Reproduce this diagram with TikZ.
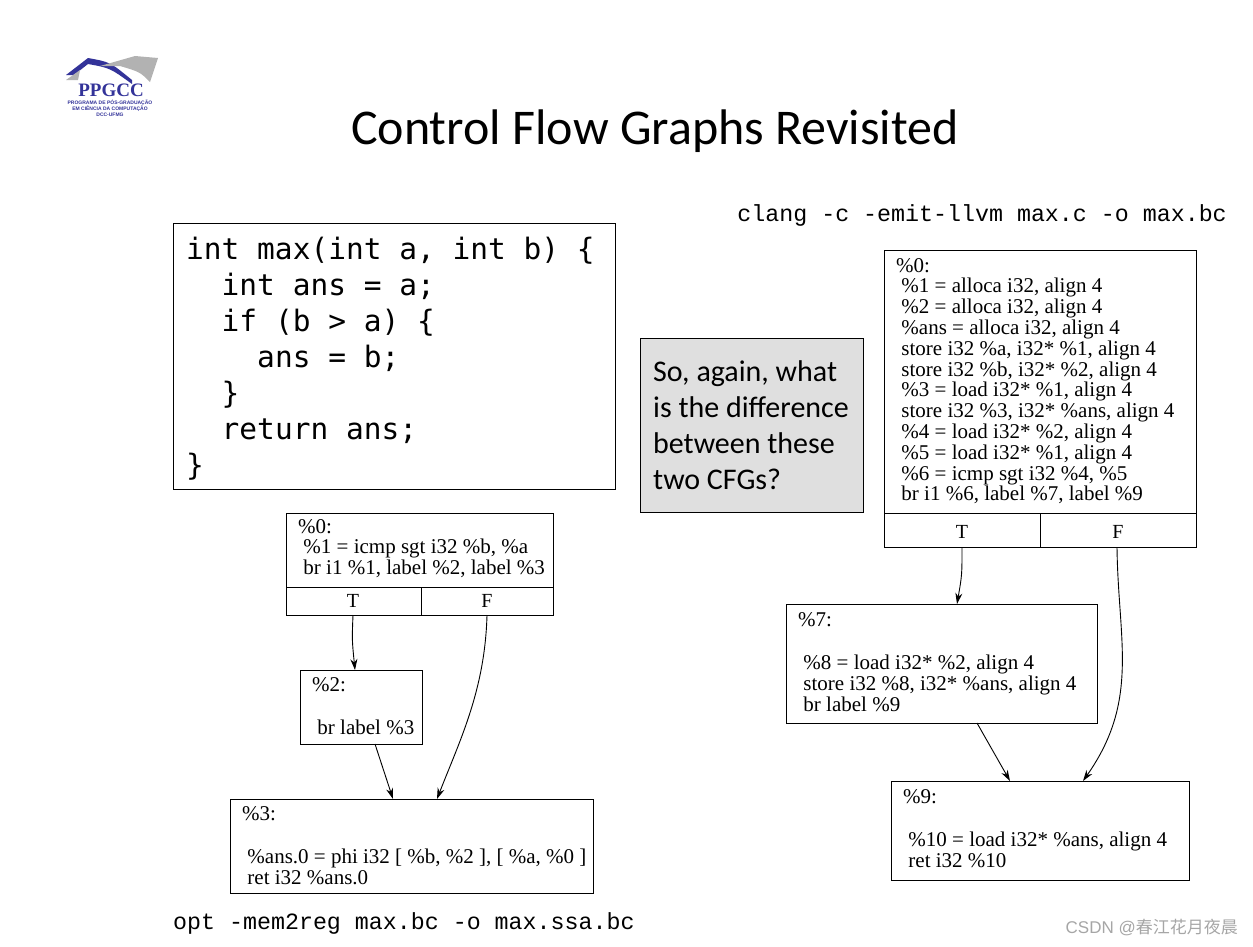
\documentclass[tikz,border=0pt]{standalone}
\usepackage{fontspec}
\setmainfont{Liberation Serif}
\newfontfamily\calfont{Carlito}
\newfontfamily\dmono{DejaVu Sans Mono}
\newfontfamily\lmono{Liberation Mono}
\newfontfamily\hsans{Liberation Sans}
\newfontfamily\cjk{Noto Sans CJK SC}
\usetikzlibrary{arrows.meta}
\begin{document}
\begin{tikzpicture}[x=1pt,y=-1pt,
  box/.style={draw,line width=0.9pt},
  cfg/.style={font=\fontsize{21}{20.8}\selectfont,align=left,anchor=north west,inner sep=0pt},
  arr/.style={-{Stealth[length=11pt,width=7pt]},line width=0.9pt}]
\useasboundingbox (0,0) rectangle (1253,946);
% logo
\fill[blue!50!black!80] (66,75) -- (88,58) .. controls (110,62) .. (132,80) -- (132,84) .. controls (110,68) .. (88,64) -- (74,75) -- cycle;
\fill[gray!60] (100,66) -- (135,56) -- (158,58) -- (150,82) .. controls (140,72) .. (120,66) -- cycle;
\fill[gray!60] (66,80) -- (80,70) -- (78,80) -- cycle;
\node[font=\bfseries\fontsize{19}{19}\selectfont,text=blue!50!black!80,inner sep=0pt] (logo) at (111,90) {PPGCC};
\node[font=\hsans\bfseries\fontsize{5}{6}\selectfont,text=blue!50!black!80,align=center,inner sep=0pt] (logot) at (110,108) {PROGRAMA DE PÓS-GRADUAÇÃO\\EM CIÊNCIA DA COMPUTAÇÃO\\DCC-UFMG};
% title
\node[font=\calfont\fontsize{50}{50}\selectfont] (title) at (655,131) {Control Flow Graphs Revisited};
% code box
\draw[box] (173,223) rectangle (615,489);
\node[font=\dmono\fontsize{29.5}{36}\selectfont,anchor=north west,align=left,inner sep=0pt] (code) at (186,237) {int max(int a, int b) \{\\\ \ int ans = a;\\\ \ if (b > a) \{\\\ \ \ \ ans = b;\\\ \ \}\\\ \ return ans;\\\}};
% gray box
\draw[box,fill=gray!25] (640,338) rectangle (863,512);
\node[font=\calfont\fontsize{30}{36}\selectfont,anchor=north west,align=left,inner sep=0pt] (q) at (653,360) {So, again, what\\is the difference\\between these\\two CFGs?};
% commands
\node[font=\lmono\fontsize{23.3}{23}\selectfont,anchor=east,inner sep=0pt] (cmd1) at (1227,215) {clang -c -emit-llvm max.c -o max.bc};
\node[font=\lmono\fontsize{23.3}{23}\selectfont,anchor=west,inner sep=0pt] (cmd2) at (173,923) {opt -mem2reg max.bc -o max.ssa.bc};
% left CFG
\draw[box] (286,513) rectangle (553,615); \draw[box] (286,587) -- (553,587); \draw[box] (421,587) -- (421,615);
\node[cfg] (l0) at (298,519) {\%0:\\\ \%1 = icmp sgt i32 \%b, \%a\\\ br i1 \%1, label \%2, label \%3};
\node[font=\fontsize{20}{20}\selectfont] (lT) at (353,601) {T};
\node[font=\fontsize{20}{20}\selectfont] (lF) at (487,601) {F};
\draw[box] (300,670) rectangle (422,744);
\node[cfg] (l2) at (312,677) {\%2:\\[23pt]\ br label \%3};
\draw[box] (230,799) rectangle (593,893);
\node[cfg] (l3) at (242,806) {\%3:\\[23pt]\ \%ans.0 = phi i32 [ \%b, \%2 ], [ \%a, \%0 ]\\\ ret i32 \%ans.0};
\coordinate (a1) at (353,615); \coordinate (b1) at (355,670);
\draw[arr] (a1) .. controls (352,640) .. (b1);
\coordinate (a2) at (487,615); \coordinate (b2) at (437,799);
\draw[arr] (a2) .. controls (485,690) and (460,740) .. (b2);
\coordinate (a3) at (375,744); \coordinate (b3) at (393,799);
\draw[arr] (a3) -- (b3);
% right CFG
\draw[box] (884,250) rectangle (1196,547); \draw[box] (884,513) -- (1196,513); \draw[box] (1040,513) -- (1040,547);
\node[cfg] (r0) at (896,258) {\%0:\\\ \%1 = alloca i32, align 4\\\ \%2 = alloca i32, align 4\\\ \%ans = alloca i32, align 4\\\ store i32 \%a, i32* \%1, align 4\\\ store i32 \%b, i32* \%2, align 4\\\ \%3 = load i32* \%1, align 4\\\ store i32 \%3, i32* \%ans, align 4\\\ \%4 = load i32* \%2, align 4\\\ \%5 = load i32* \%1, align 4\\\ \%6 = icmp sgt i32 \%4, \%5\\\ br i1 \%6, label \%7, label \%9};
\node[font=\fontsize{20}{20}\selectfont] (rT) at (962,532) {T};
\node[font=\fontsize{20}{20}\selectfont] (rF) at (1118,532) {F};
\draw[box] (786,604) rectangle (1097,723);
\node[cfg] (r7) at (798,612) {\%7:\\[23pt]\ \%8 = load i32* \%2, align 4\\\ store i32 \%8, i32* \%ans, align 4\\\ br label \%9};
\draw[box] (891,781) rectangle (1189,880);
\node[cfg] (r9) at (903,789) {\%9:\\[23pt]\ \%10 = load i32* \%ans, align 4\\\ ret i32 \%10};
\coordinate (c1) at (962,547); \coordinate (d1) at (957,604);
\draw[arr] (c1) .. controls (962,575) .. (d1);
\coordinate (c2) at (1117,547); \coordinate (d2) at (1083,781);
\draw[arr] (c2) .. controls (1118,640) and (1140,700) .. (d2);
\coordinate (c3) at (977,723); \coordinate (d3) at (1010,781);
\draw[arr] (c3) -- (d3);
% watermark
\node[font=\fontsize{17}{17}\selectfont,text=gray!70,anchor=east,inner sep=0pt] (wm) at (1238,927) {\hsans CSDN @\cjk 春江花月夜晨};
\end{tikzpicture}
\end{document}
